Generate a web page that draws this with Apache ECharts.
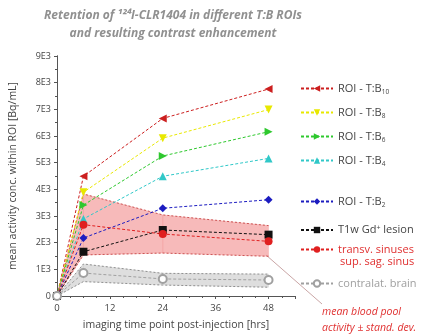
<!DOCTYPE html>
<html>
<head>
<meta charset="utf-8">
<script src="https://cdn.jsdelivr.net/npm/echarts@6/dist/echarts.min.js"></script>
<style>
  html, body { margin: 0; padding: 0; background: #fff; }
</style>
</head>
<body>
<div id="chart" style="width:434px;height:336px;"></div>
<script>
    // time points (hrs)
    var hours = [0, 6, 24, 48];

    var tb10 = [0, 4490, 6660, 7760];
    var tb8 = [0, 3890, 5920, 6990];
    var tb6 = [0, 3410, 5250, 6160];
    var tb4 = [0, 2890, 4490, 5160];
    var tb2 = [0, 2175, 3290, 3610];
    var lesion = [0, 1660, 2475, 2300];
    var sinus = [0, 2675, 2325, 2050];
    var sinusUpper = [0, 3825, 3040, 2640];
    var sinusLower = [0, 1540, 1610, 1490];
    var brain = [0, 860, 640, 600];
    var brainUpper = [0, 1200, 850, 820];
    var brainLower = [0, 540, 410, 330];

    var yTicks = [0, 1000, 2000, 3000, 4000, 5000, 6000, 7000, 8000, 9000];

    function pairs(ys) {
        return hours.map(function (h, i) { return [h, ys[i]]; });
    }
    function bandData(lo, up) {
        return hours.map(function (h, i) { return [h, lo[i], up[i]]; });
    }

    var txt = '#444';
    var font = 'Open Sans';

    function roiSeries(name, data, color, symbol, rotate) {
        return {
            name: name,
            type: 'line',
            data: pairs(data),
            color: color,
            symbol: symbol,
            symbolSize: 8,
            symbolRotate: rotate || 0,
            showSymbol: true,
            lineStyle: { width: 1, type: [3, 2], color: color },
            itemStyle: { color: color },
            z: 5
        };
    }

    function edgeSeries(data, color) {
        return {
            type: 'line', data: pairs(data), symbol: 'none', silent: true,
            lineStyle: { width: 1, type: [2, 2], color: color }, z: 3
        };
    }

    function bandSeries(lo, up, fill) {
        return {
            type: 'custom',
            silent: true,
            z: 1,
            data: bandData(lo, up),
            encode: { x: 0, y: [1, 2] },
            renderItem: function (params, api) {
                var i = params.dataIndex;
                if (i >= hours.length - 1) return;
                var a = api.coord([hours[i], lo[i]]);
                var b = api.coord([hours[i + 1], lo[i + 1]]);
                var c = api.coord([hours[i + 1], up[i + 1]]);
                var d = api.coord([hours[i], up[i]]);
                return {
                    type: 'polygon',
                    shape: { points: [a, b, c, d] },
                    style: { fill: fill, stroke: fill, lineWidth: 0.5 }
                };
            }
        };
    }

    function legendAt(name, top, color) {
        return {
            data: [name],
            left: 300,
            top: top,
            padding: 0,
            itemWidth: 32,
            itemHeight: 8,
            itemGap: 6,
            textStyle: {
                color: color || txt,
                fontSize: 11,
                fontFamily: font,
                rich: {
                    sub: { fontSize: 6.5, color: color || txt, fontFamily: font, verticalAlign: 'bottom', padding: [7, 0, 0, 0] },
                    sup: { fontSize: 7, color: color || txt, fontFamily: font, verticalAlign: 'top', padding: [0, 0, 5, 0] }
                }
            },
            formatter: function (n) {
                var m = n.match(/^ROI - T:B(\d+)$/);
                if (m) return 'ROI - T:B{sub|' + m[1] + '}';
                if (n.indexOf('Gd') >= 0) return 'T1w Gd{sup|+} lesion';
                return n;
            }
        };
    }

    var chart = echarts.init(document.getElementById('chart'));

    var option = {
        animation: false,
        grid: { left: 57, right: 139, top: 56, bottom: 39 },
        legend: [
            legendAt('ROI - T:B10', 83),
            legendAt('ROI - T:B8', 107),
            legendAt('ROI - T:B6', 131),
            legendAt('ROI - T:B4', 155),
            legendAt('ROI - T:B2', 196),
            legendAt('T1w Gd+ lesion', 224),
            legendAt('transv. sinuses', 244, '#e03030'),
            legendAt('contralat. brain', 278, '#a0a0a0')
        ],
        xAxis: [{
            type: 'value',
            min: 0,
            max: 54,
            interval: 12,
            name: 'imaging time point post-injection [hrs]',
            nameLocation: 'middle',
            nameGap: 24,
            nameTextStyle: { color: txt, fontSize: 10.5, fontFamily: font },
            axisLine: { lineStyle: { color: '#555', width: 1 } },
            axisTick: { show: true, inside: false, length: 3, lineStyle: { color: '#555' } },
            minorTick: { show: true, splitNumber: 4, length: 2, lineStyle: { color: '#555' } },
            axisLabel: { color: txt, fontSize: 9.5, fontFamily: font, margin: 7,
                formatter: function (v) { return v > 48 ? '' : v; } },
            splitLine: { show: false }
        }, {
            type: 'value',
            position: 'top',
            min: 0,
            max: 54,
            interval: 12,
            axisLine: { show: true, lineStyle: { color: '#555', width: 1 } },
            axisTick: { show: true, inside: true, length: 3, lineStyle: { color: '#555' } },
            minorTick: { show: true, splitNumber: 4, length: 2, lineStyle: { color: '#555' } },
            axisLabel: { show: false },
            splitLine: { show: false }
        }],
        yAxis: [{
            type: 'value',
            min: 0,
            max: 9000,
            interval: 1000,
            name: 'mean activity conc. within ROI [Bq/mL]',
            nameLocation: 'middle',
            nameGap: 38,
            nameTextStyle: { color: txt, fontSize: 10.5, fontFamily: font },
            axisLine: { show: true, lineStyle: { color: '#555', width: 1 } },
            axisTick: { show: true, length: 3, lineStyle: { color: '#555' } },
            minorTick: { show: true, splitNumber: 2, length: 2, lineStyle: { color: '#555' } },
            axisLabel: { color: txt, fontSize: 9, fontFamily: font, margin: 6,
                formatter: function (v) {
                    if (yTicks.indexOf(v) < 0) return '';
                    return v === 0 ? '0' : (v / 1000) + 'E3';
                } },
            splitLine: { show: false }
        }, {
            type: 'value',
            position: 'right',
            min: 0,
            max: 9000,
            interval: 1000,
            axisLine: { show: true, lineStyle: { color: '#555', width: 1 } },
            axisTick: { show: true, inside: true, length: 3, lineStyle: { color: '#555' } },
            minorTick: { show: true, splitNumber: 2, length: 2, lineStyle: { color: '#555' } },
            axisLabel: { show: false },
            splitLine: { show: false }
        }],
        graphic: [
            { type: 'text', x: 173, y: 7, style: {
                text: 'Retention of \u00b9\u00b2\u2074I-CLR1404 in different T:B ROIs\nand resulting contrast enhancement',
                align: 'center', fill: '#909090', lineHeight: 18,
                font: 'italic bold 12px "Open Sans"' } },
            { type: 'text', left: 340, top: 256, style: { text: 'sup. sag. sinus', fill: '#e03030', font: '11px "Open Sans"' } },
            { type: 'line', shape: { x1: 266, y1: 255, x2: 322, y2: 304 }, style: { stroke: '#c9a5a5', lineWidth: 1 } },
            { type: 'text', left: 322, top: 304, style: { text: 'mean blood pool\nactivity \u00b1 stand. dev.', fill: '#e03030', font: 'italic 10.5px "Open Sans"', lineHeight: 16 } }
        ],
        series: [
            bandSeries(brainLower, brainUpper, 'rgba(200,200,200,0.6)'),
            bandSeries(sinusLower, sinusUpper, 'rgba(242,140,140,0.6)'),
            edgeSeries(brainLower, '#909090'),
            edgeSeries(brainUpper, '#909090'),
            edgeSeries(sinusLower, '#cc5555'),
            edgeSeries(sinusUpper, '#cc5555'),

            roiSeries('ROI - T:B10', tb10, '#cc1f1f', 'triangle', 90),
            roiSeries('ROI - T:B8', tb8, '#e8e800', 'triangle', 180),
            roiSeries('ROI - T:B6', tb6, '#2ec82e', 'triangle', -90),
            roiSeries('ROI - T:B4', tb4, '#30c8c8', 'triangle', 0),
            roiSeries('ROI - T:B2', tb2, '#1c1cc0', 'diamond', 0),
            roiSeries('T1w Gd+ lesion', lesion, '#111111', 'rect', 0),
            roiSeries('transv. sinuses', sinus, '#e02020', 'circle', 0),
            roiSeries('contralat. brain', brain, '#a0a0a0', 'emptyCircle', 0)
        ]
    };

    chart.setOption(option);
</script>
</body>
</html>
